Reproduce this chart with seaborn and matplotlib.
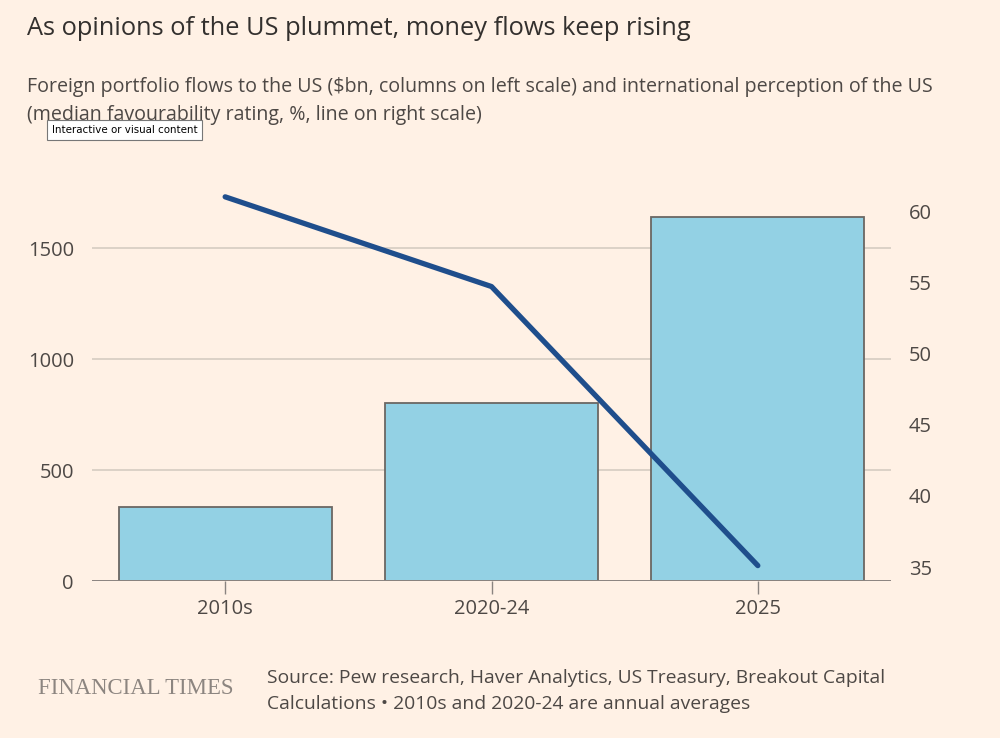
import matplotlib
matplotlib.use("Agg")
import matplotlib.pyplot as plt
import seaborn as sns
import pandas as pd

categories = ["2010s", "2020-24", "2025"]
flows_bn = [333, 800, 1640]
favourability = [61.0, 54.7, 35.1]
left_ticks = [0, 500, 1000, 1500]
right_ticks = [35, 40, 45, 50, 55, 60]

BG = "#fff1e5"
TXT = "#33302e"
TICK = "#4d4845"

sns.set_theme(style="white")
plt.rcParams['font.family'] = ['Open Sans', 'DejaVu Sans']

df = pd.DataFrame({"period": categories, "flows": flows_bn, "fav": favourability})

fig = plt.figure(figsize=(10, 7.38), dpi=100, facecolor=BG)
ax = fig.add_axes([0.092, 0.2127, 0.799, 0.5366])
ax.set_facecolor(BG)

sns.barplot(data=df, x="period", y="flows", color="#93d1e4", saturation=1,
            edgecolor="#6b6763", linewidth=1.3, width=0.8, ax=ax, zorder=2)
for y in left_ticks[1:]:
    ax.axhline(y, color="#d6ccc2", lw=1.2, zorder=0)
ax.axhline(0, color="#8a8480", lw=1.4, zorder=3)
ax.set_xlim(-0.5, 2.5)
ax.set_ylim(0, 1784)
ax.set_yticks(left_ticks)
ax.set_yticklabels([str(v) for v in left_ticks])
ax.tick_params(axis="y", length=0, pad=13, labelsize=14.5, labelcolor=TICK)
ax.tick_params(axis="x", length=9, width=1, color="#8a8480", pad=4, labelsize=14.5,
               labelcolor=TICK, bottom=True)
ax.set_xlabel("")
ax.set_ylabel("")
for s in ax.spines.values():
    s.set_visible(False)

ax2 = ax.twinx()
sns.lineplot(data=df, x="period", y="fav", sort=False, color="#1f4e8c", lw=3.8,
             ax=ax2, zorder=4)
ax2.set_ylim(34.017, 61.83)
ax2.set_yticks(right_ticks)
ax2.set_yticklabels([str(v) for v in right_ticks])
ax2.tick_params(axis="y", length=0, pad=13, labelsize=14.5, labelcolor=TICK)
ax2.set_ylabel("")
ax2.set_xlim(-0.5, 2.5)
for s in ax2.spines.values():
    s.set_visible(False)

fig.text(0.027, 0.962, "As opinions of the US plummet, money flows keep rising",
         fontsize=18.3, color=TXT, va="center", ha="left")
fig.text(0.027, 0.882, "Foreign portfolio flows to the US ($bn, columns on left scale) and international perception of the US",
         fontsize=14.1, color="#4d4845", va="center", ha="left")
fig.text(0.027, 0.844, "(median favourability rating, %, line on right scale)",
         fontsize=14.1, color="#4d4845", va="center", ha="left")
fig.text(0.052, 0.824, "Interactive or visual content", fontsize=7.4, color="black",
         va="center", ha="left", family=["DejaVu Sans"],
         bbox=dict(boxstyle="square,pad=0.45", fc="white", ec="#777777", lw=0.8))

fig.text(0.038, 0.067, "FINANCIAL TIMES", fontsize=16.4, color="#8c8580",
         va="center", ha="left", family=["Liberation Serif", "DejaVu Serif"])
fig.text(0.267, 0.081, "Source: Pew research, Haver Analytics, US Treasury, Breakout Capital",
         fontsize=13.9, color="#4d4845", va="center", ha="left")
fig.text(0.267, 0.046, "Calculations \u2022 2010s and 2020-24 are annual averages",
         fontsize=13.9, color="#4d4845", va="center", ha="left")

fig.savefig("out.png", dpi=100, facecolor=BG)
